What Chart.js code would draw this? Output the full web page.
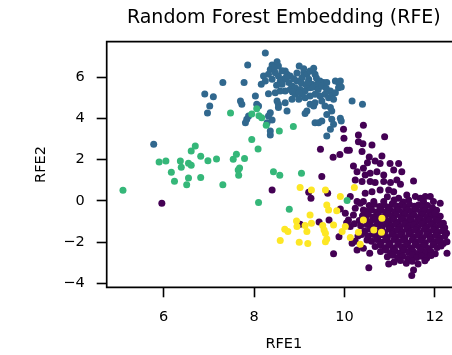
<!DOCTYPE html>
<html>
<head>
<meta charset="utf-8">
<script src="https://cdn.jsdelivr.net/npm/chart.js@4.4.1/dist/chart.umd.min.js"></script>
<style>
  html, body { margin: 0; padding: 0; background: #ffffff; overflow: hidden; }
  #wrap { width: 452px; height: 355px; overflow: hidden; }
</style>
</head>
<body>
<div id="wrap"><canvas id="chart" width="470" height="355"></canvas></div>
<script>
// Text
const chartTitle = 'Random Forest Embedding (RFE)';
const xAxisTitle = 'RFE1';
const yAxisTitle = 'RFE2';

// Tick values
const xTicks = [6, 8, 10, 12];
const yTicks = [-4, -2, 0, 2, 4, 6];

// Cluster labels and viridis colours
const clusterNames = ['0', '1', '2', '3'];
const clusterColors = ['#440154', '#31688e', '#35b779', '#fde725'];

// Cluster 0 (embedding coordinates [RFE1, RFE2])
const cluster0 = [
  [5.96,-0.11],[8.40,0.53],[9.02,-1.13],[9.21,0.42],[9.26,0.13],[9.50,1.18],[9.47,2.50],
  [9.63,0.37],[9.44,-1.02],[9.66,-0.92],[9.76,-2.56],[9.88,-1.73],
  [9.98,3.47],[9.99,3.03],[10.42,3.66],[10.31,3.19],[10.31,2.87],[10.41,2.77],[10.61,2.71],
  [10.89,3.11],[10.06,2.45],[10.11,2.45],[9.90,2.25],[9.75,2.11],[10.39,2.39],[10.55,2.13],
  [10.83,2.18],[10.51,1.85],[10.68,1.94],[10.79,1.81],[11.01,1.81],[11.20,1.81],[10.20,1.69],
  [10.28,1.42],[10.42,1.58],[10.46,1.26],[10.57,1.34],[10.72,1.42],[10.87,1.26],[11.09,1.50],
  [11.27,1.42],[11.53,0.97],[10.24,1.02],[10.39,0.94],[10.57,0.94],[10.68,0.89],[10.87,0.94],
  [11.02,0.89],[11.16,1.02],[11.24,0.81],[10.61,0.45],[10.46,0.37],[10.79,0.53],[10.98,0.53],
  [11.09,0.45],[11.38,0.29],[11.57,0.21],[11.68,0.13],[11.79,0.21],[11.90,0.21],[10.13,0.21],
  [10.28,-0.03],[10.42,-0.03],[10.65,-0.03],[10.87,-0.03],[11.20,0.13],[11.42,0.05],
  [11.75,-0.03],[11.97,-0.03],[12.12,-0.11],[10.95,0.20],[11.10,0.05],[11.30,-0.05],
  [9.91,-0.39],[10.02,-0.60],[10.09,-0.92],[10.20,-0.68],[10.24,-0.35],[10.35,-0.11],
  [10.42,-0.44],[10.13,-1.24],[10.17,-2.05],[10.28,-2.37],[10.42,-2.29],[10.50,-1.89],
  [10.56,-2.53],[10.05,-1.05],[10.22,-1.10],[10.30,-1.70],[10.24,-1.95],[10.38,-1.62],
  [10.55,-0.22],[10.66,-0.16],[10.78,-0.27],[10.88,-0.18],[10.97,-0.30],[11.06,-0.14],
  [11.15,-0.25],[11.26,-0.20],[11.35,-0.31],[11.44,-0.17],[11.55,-0.26],[11.64,-0.19],
  [11.73,-0.29],[11.84,-0.22],[11.95,-0.33],[12.04,-0.45],
  [10.48,-0.50],[10.60,-0.42],[10.71,-0.53],[10.82,-0.45],[10.92,-0.55],[11.01,-0.41],
  [11.11,-0.52],[11.20,-0.44],[11.30,-0.56],[11.40,-0.43],[11.49,-0.51],[11.59,-0.40],
  [11.69,-0.54],[11.79,-0.46],[11.89,-0.55],[11.98,-0.62],
  [10.40,-0.72],[10.53,-0.66],[10.64,-0.78],[10.75,-0.68],[10.86,-0.77],[10.96,-0.63],
  [11.05,-0.74],[11.15,-0.66],[11.25,-0.79],[11.34,-0.64],[11.44,-0.75],[11.54,-0.68],
  [11.63,-0.80],[11.73,-0.65],[11.83,-0.76],[11.93,-0.70],[12.03,-0.82],[12.12,-0.74],
  [10.33,-0.95],[10.47,-0.88],[10.58,-1.00],[10.69,-0.90],[10.80,-1.02],[10.90,-0.86],
  [11.00,-0.97],[11.09,-0.89],[11.19,-1.03],[11.29,-0.87],[11.39,-0.99],[11.48,-0.91],
  [11.58,-1.04],[11.68,-0.88],[11.78,-0.98],[11.88,-0.92],[11.97,-1.05],[12.08,-0.96],[12.19,-1.08],
  [10.36,-1.20],[10.50,-1.14],[10.62,-1.26],[10.73,-1.12],[10.84,-1.24],[10.94,-1.10],
  [11.04,-1.22],[11.14,-1.13],[11.23,-1.27],[11.33,-1.11],[11.43,-1.23],[11.53,-1.15],
  [11.62,-1.28],[11.72,-1.12],[11.82,-1.25],[11.92,-1.14],[12.02,-1.26],[12.13,-1.18],[12.22,-1.30],
  [10.45,-1.45],[10.57,-1.37],[10.68,-1.50],[10.78,-1.40],[10.89,-1.53],[10.99,-1.36],
  [11.09,-1.47],[11.18,-1.39],[11.28,-1.52],[11.38,-1.35],[11.47,-1.48],[11.57,-1.41],
  [11.67,-1.54],[11.77,-1.37],[11.87,-1.49],[11.97,-1.40],[12.07,-1.52],[12.18,-1.44],[12.26,-1.56],
  [10.52,-1.70],[10.64,-1.62],[10.74,-1.75],[10.85,-1.64],[10.95,-1.77],[11.05,-1.61],
  [11.14,-1.72],[11.24,-1.65],[11.34,-1.78],[11.43,-1.60],[11.53,-1.73],[11.63,-1.66],
  [11.73,-1.79],[11.82,-1.62],[11.92,-1.74],[12.02,-1.67],[12.12,-1.80],[12.22,-1.71],
  [10.60,-1.95],[10.71,-1.87],[10.81,-2.00],[10.91,-1.89],[11.01,-2.03],[11.10,-1.86],
  [11.20,-1.97],[11.30,-1.90],[11.40,-2.04],[11.50,-1.88],[11.59,-1.99],[11.69,-1.91],
  [11.79,-2.05],[11.89,-1.87],[11.99,-2.00],[12.09,-1.93],[12.19,-2.06],
  [10.68,-2.20],[10.79,-2.12],[10.89,-2.26],[10.98,-2.14],[11.08,-2.28],[11.18,-2.11],
  [11.27,-2.23],[11.37,-2.15],[11.47,-2.29],[11.56,-2.13],[11.66,-2.24],[11.76,-2.16],
  [11.86,-2.30],[11.96,-2.12],[12.05,-2.25],[12.14,-2.18],
  [10.80,-2.45],[10.92,-2.38],[11.02,-2.51],[11.12,-2.40],[11.22,-2.53],[11.32,-2.37],
  [11.42,-2.48],[11.51,-2.41],[11.61,-2.54],[11.71,-2.39],[11.81,-2.50],[11.91,-2.43],[12.01,-2.55],
  [10.95,-2.70],[11.07,-2.63],[11.18,-2.76],[11.29,-2.66],[11.40,-2.79],[11.50,-2.62],
  [11.60,-2.74],[11.71,-2.68],[11.82,-2.77],[11.92,-2.64],
  [11.10,-2.95],[11.24,-2.88],[11.37,-3.02],[11.50,-2.92],[11.63,-3.05],[11.78,-2.90],
  [10.54,-3.23],[11.49,-3.61],[11.53,-3.34],[10.98,-3.05],
  [12.27,-2.53],[12.27,-1.97],[12.01,-0.60]
];

// Cluster 1
const cluster1 = [
  [5.78,2.74],[6.91,5.18],[7.10,5.05],[7.02,4.60],[6.97,4.26],[7.31,5.74],
  [8.25,7.16],[7.86,6.58],[8.40,6.58],[8.51,6.74],[8.54,6.53],[8.36,6.37],[8.47,6.21],
  [8.32,6.13],[8.21,6.05],[8.16,5.65],[8.25,5.81],[8.40,5.89],[8.54,6.05],[8.69,6.29],
  [8.73,6.13],[8.65,5.89],[8.58,5.81],[8.62,5.65],[8.77,5.73],[8.84,5.56],[8.80,5.40],
  [8.69,5.32],[8.58,5.32],[8.47,5.24],[8.32,5.19],[9.00,6.53],[9.10,6.21],[9.17,6.13],
  [9.24,6.29],[9.32,6.42],[9.35,6.13],[9.21,5.89],[9.06,5.97],[8.95,5.81],[8.91,5.48],
  [9.02,5.40],[9.13,5.32],[9.24,5.48],[9.28,5.65],[9.39,5.65],[9.46,5.81],[9.54,5.73],
  [9.61,5.73],[9.80,5.81],[9.87,5.73],[9.69,5.32],[9.57,5.16],[9.46,5.08],[9.35,5.16],
  [9.24,5.08],[9.13,5.00],[9.06,5.16],[8.91,5.16],[8.99,4.92],[8.84,4.92],[8.03,5.08],
  [7.78,5.73],[7.70,4.84],[7.73,4.68],[8.06,4.68],[8.10,4.60],[7.84,3.95],[7.81,3.79],
  [7.88,4.11],[8.51,4.84],[8.54,4.68],[8.69,4.76],[8.73,4.35],[8.54,4.52],[8.36,4.27],
  [8.32,4.11],[8.40,3.92],[8.36,3.39],[8.36,3.19],[8.29,3.79],[9.17,4.35],[9.13,4.23],
  [9.24,4.68],[9.32,4.60],[9.35,4.76],[9.50,4.84],[9.57,4.60],[9.65,5.00],[9.72,5.08],
  [9.76,4.92],[9.69,4.52],[9.72,4.35],[9.61,4.19],[9.50,3.87],[9.43,3.79],[9.35,3.79],
  [9.72,3.95],[9.76,3.71],[9.69,3.47],[9.61,3.15],[9.87,5.48],[9.80,5.24],
  [10.17,4.84],[10.40,4.68],[9.91,5.81],[9.93,5.52],[9.91,4.00],[9.93,3.87],
  [8.45,6.45],[8.62,6.30],[8.80,6.05],[8.88,5.92],[9.05,5.70],[9.15,5.62],[9.30,5.50],
  [9.42,5.40],[9.50,5.55],[9.20,5.75],[8.95,6.20],[9.10,6.40],[8.70,5.95],[8.50,5.60],
  [9.60,5.45],[9.38,5.95],[8.85,5.28],[9.00,5.25]
];

// Cluster 2
const cluster2 = [
  [5.10,0.52],[5.90,1.89],[6.05,1.94],[6.37,1.94],[6.39,1.63],[6.17,1.39],[6.24,0.95],
  [6.51,0.79],[6.55,1.11],[6.55,1.82],[6.61,1.73],[6.61,2.42],[6.70,2.66],[6.82,2.16],
  [6.82,1.13],[6.98,1.95],[7.17,2.03],[7.31,0.79],[7.54,2.02],[7.61,2.26],[7.79,2.06],
  [7.68,1.60],[7.65,1.50],[7.66,1.24],[7.48,4.26],[7.95,2.98],[7.95,4.21],[8.06,4.47],
  [8.11,4.13],[8.17,4.03],[8.27,3.66],[8.09,2.52],[8.56,3.39],[8.87,3.61],[8.43,1.42],
  [8.57,1.24],[9.05,1.34],[8.10,-0.08],[8.78,-0.40],[10.06,0.02]
];

// Cluster 3
const cluster3 = [
  [9.02,0.65],[9.27,0.53],[9.58,0.53],[9.91,0.21],[10.22,0.65],[9.61,-0.19],[9.65,-0.44],
  [9.83,-0.48],[9.24,-0.68],[8.94,-0.97],[8.95,-1.24],[9.13,-1.19],[9.27,-1.08],[9.52,-1.19],
  [9.55,-1.40],[9.58,-1.56],[9.76,-1.16],[9.17,-1.48],[8.68,-1.37],[8.75,-1.48],[8.58,-1.92],
  [9.00,-2.00],[9.19,-2.06],[9.58,-1.97],[9.61,-1.84],[9.95,-1.48],[10.13,-1.77],[10.31,-1.52],
  [10.35,-2.10],[10.65,-1.40],[10.82,-1.52],[10.42,-0.92],[10.83,-0.84],[10.02,-1.24]
];

const clusters = [cluster0, cluster1, cluster2, cluster3];

// Frame lines along the left, top and bottom of the plot area
const framePlugin = {
  id: 'frame',
  afterDatasetsDraw(chart) {
    const { ctx, chartArea: a } = chart;
    ctx.save();
    ctx.strokeStyle = '#000000';
    ctx.lineWidth = 1.7;
    ctx.beginPath();
    ctx.moveTo(a.right, a.top);
    ctx.lineTo(a.left, a.top);
    ctx.lineTo(a.left, a.bottom);
    ctx.lineTo(a.right, a.bottom);
    ctx.stroke();
    ctx.restore();
  }
};

const font = 'DejaVu Sans';
const drawOrder = [3, 2, 1, 0];

new Chart(document.getElementById('chart'), {
  type: 'scatter',
  data: {
    datasets: clusters.map((pts, i) => ({
      label: clusterNames[i],
      data: pts.map(p => ({ x: p[0], y: p[1] })),
      backgroundColor: clusterColors[i],
      borderWidth: 0,
      pointRadius: 3.5,
      pointHoverRadius: 3.5,
      order: drawOrder[i]
    }))
  },
  options: {
    responsive: false,
    animation: false,
    devicePixelRatio: 1,
    events: [],
    layout: { padding: { left: 0, right: 9, top: 0, bottom: 0 } },
    plugins: {
      legend: { display: false },
      tooltip: { enabled: false },
      title: {
        display: true,
        fullSize: false,
        text: chartTitle,
        color: '#000000',
        font: { family: font, size: 19, weight: 'normal' },
        padding: { top: 6.2, bottom: 12.7 }
      }
    },
    scales: {
      x: {
        type: 'linear',
        min: 4.74,
        max: 12.58,
        afterFit(scale) { scale.height = 67.7; },
        afterBuildTicks(scale) { scale.ticks = xTicks.map(v => ({ value: v })); },
        border: { display: false },
        grid: { drawOnChartArea: false, drawTicks: true, tickLength: 10, tickWidth: 1.6, tickColor: '#000000' },
        ticks: {
          color: '#000000',
          padding: 11,
          maxRotation: 0,
          font: { family: font, size: 14.5 },
          callback: v => String(v).replace('-', '\u2212')
        },
        title: {
          display: true,
          text: xAxisTitle,
          color: '#000000',
          font: { family: font, size: 14.5 },
          padding: { top: 0, bottom: 2.3 }
        }
      },
      y: {
        type: 'linear',
        min: -4.18,
        max: 7.71,
        afterFit(scale) { scale.width = 106.7; },
        afterBuildTicks(scale) { scale.ticks = yTicks.map(v => ({ value: v })); },
        border: { display: false },
        grid: { drawOnChartArea: false, drawTicks: true, tickLength: 10, tickWidth: 1.6, tickColor: '#000000' },
        ticks: {
          color: '#000000',
          padding: 12,
          font: { family: font, size: 14.5 },
          callback: v => String(v).replace('-', '\u2212')
        },
        title: {
          display: true,
          text: yAxisTitle,
          color: '#000000',
          font: { family: font, size: 14.5 },
          padding: { top: 32.8, bottom: 0 }
        }
      }
    }
  },
  plugins: [framePlugin]
});
</script>
</body>
</html>
